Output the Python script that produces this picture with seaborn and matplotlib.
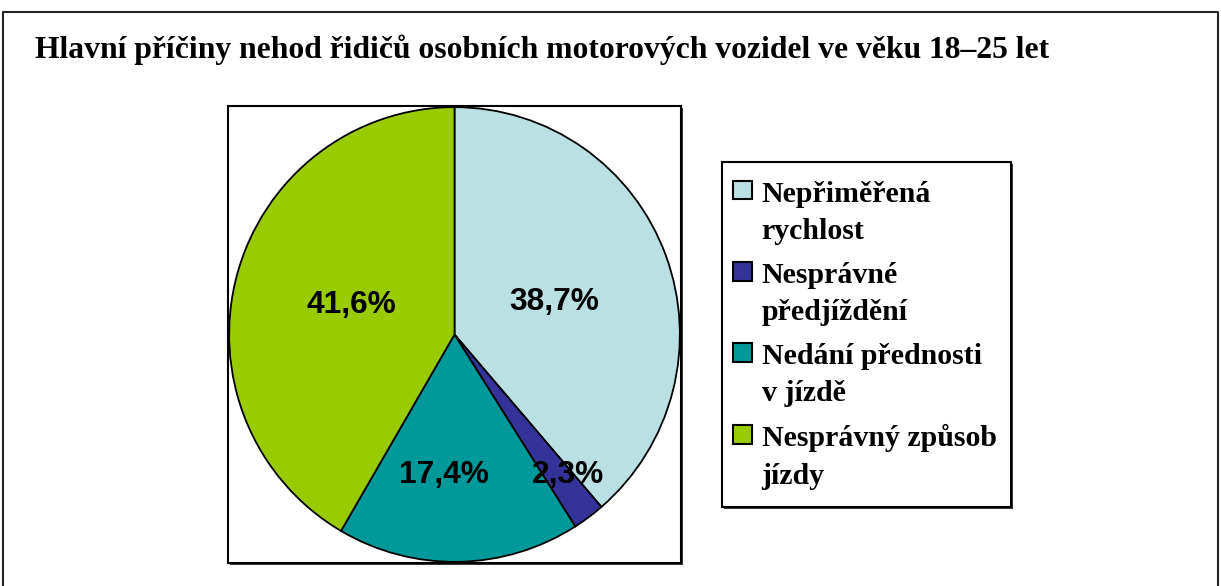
import matplotlib.pyplot as plt
import numpy as np
import seaborn as sns
from matplotlib.legend_handler import HandlerPatch
from matplotlib.lines import Line2D
from matplotlib.patches import Rectangle

title = "Hlavní příčiny nehod řidičů osobních motorových vozidel ve věku 18–25 let"
categories = [
    "Nepřiměřená\nrychlost",
    "Nesprávné\npředjíždění",
    "Nedání přednosti\nv jízdě",
    "Nesprávný způsob\njízdy",
]
shares = [38.7, 2.3, 17.4, 41.6]
colors = ["#BBE0E3", "#333399", "#009999", "#99CC00"]

# where the percentage labels sit (fraction of radius, angle nudge in degrees)
label_radius = [0.47, 0.79, 0.61, 0.48]
label_nudge = [-1.3, 3.1, -5.6, -1.9]

W, H = 1221, 586
LEG_SIZE = 21.5
LEG_LINESPACING = 1.5


def fig_box(x0, y0, x1, y1):
    """Pixel box (top-left origin) -> figure fraction rect."""
    return [x0 / W, 1 - y1 / H, (x1 - x0) / W, (y1 - y0) / H]


def boxed(x0, y0, x1, y1, z):
    """White box with black border and a dark drop shadow, in figure pixels."""
    bx, by, bw, bh = fig_box(x0 + 2, y0 + 2, x1 + 2, y1 + 2)
    fig.add_artist(Rectangle((bx, by), bw, bh, transform=fig.transFigure,
                             facecolor="#3a3a3a", edgecolor="none", zorder=z - 0.1))
    bx, by, bw, bh = fig_box(x0, y0, x1, y1)
    fig.add_artist(Rectangle((bx, by), bw, bh, transform=fig.transFigure,
                             facecolor="white", edgecolor="black", lw=1.5, zorder=z))


def top_square(legend, orig_handle, xdescent, ydescent, width, height, fontsize):
    # square next to the first line of a two-line label (y=0 is the last baseline)
    s = 0.63 * fontsize
    first_base = 0.83 * fontsize * LEG_LINESPACING
    return Rectangle((-xdescent, first_base - 0.13 * fontsize - s / 2), s, s)


sns.set_theme(style="white")
plt.rcParams["font.family"] = ["Liberation Serif", "DejaVu Serif"]
plt.rcParams["text.color"] = "black"

fig = plt.figure(figsize=(W / 100, H / 100), dpi=100)

# outer chart border (open at the bottom)
fig.add_artist(Line2D([3 / W, 3 / W, 1218 / W, 1218 / W], [0, 1 - 12 / H, 1 - 12 / H, 0],
                      transform=fig.transFigure, color="#222222", lw=1.5))

fig.text(35 / W, 1 - 50 / H, title, fontsize=22.8, fontweight="bold", ha="left", va="center")

# plot area shadow, then the pie axes on top of it
bx, by, bw, bh = fig_box(230, 108, 683, 565)
fig.add_artist(Rectangle((bx, by), bw, bh, transform=fig.transFigure,
                         facecolor="#3a3a3a", edgecolor="none", zorder=-1))

ax = fig.add_axes(fig_box(228, 106, 681, 563))
wedges, _ = ax.pie(shares, colors=colors, startangle=90, counterclock=False, radius=1,
                   wedgeprops=dict(edgecolor="black", linewidth=1.3), frame=True)
ax.set_aspect("auto")
ax.set_xlim(-1.005, 1.005)
ax.set_ylim(-1.005, 1.005)
ax.set_xticks([])
ax.set_yticks([])
ax.set_facecolor("white")
for sp in ax.spines.values():
    sp.set_visible(True)
    sp.set_color("black")
    sp.set_linewidth(1.5)

for w, v, r, nudge in zip(wedges, shares, label_radius, label_nudge):
    ang = np.deg2rad((w.theta1 + w.theta2) / 2 + nudge)
    ax.text(r * np.cos(ang), r * np.sin(ang) - 0.01, f"{v:.1f}%".replace(".", ","),
            ha="center", va="center", fontsize=22.8, fontweight="bold", color="black",
            family=["Liberation Sans", "DejaVu Sans"])

# legend frame drawn by hand (Excel pads it tighter on the sides than on top)
boxed(722, 162, 1011, 507, z=4)
handles = [Rectangle((0, 0), 1, 1, facecolor=c, edgecolor="black", linewidth=1.5) for c in colors]
leg = fig.legend(handles, categories, loc="upper left", bbox_to_anchor=(733 / W, 1 - 180.5 / H),
                 frameon=False,
                 prop=dict(family=["Liberation Serif", "DejaVu Serif"], weight="bold", size=LEG_SIZE),
                 handlelength=0.63, handleheight=0.7, handletextpad=0.33, labelspacing=0.56,
                 borderpad=0, borderaxespad=0,
                 handler_map={Rectangle: HandlerPatch(patch_func=top_square)})
leg.set_zorder(5)
for t in leg.get_texts():
    t.set_linespacing(LEG_LINESPACING)
    t.set_color("black")

fig.savefig("out.png", dpi=100)
